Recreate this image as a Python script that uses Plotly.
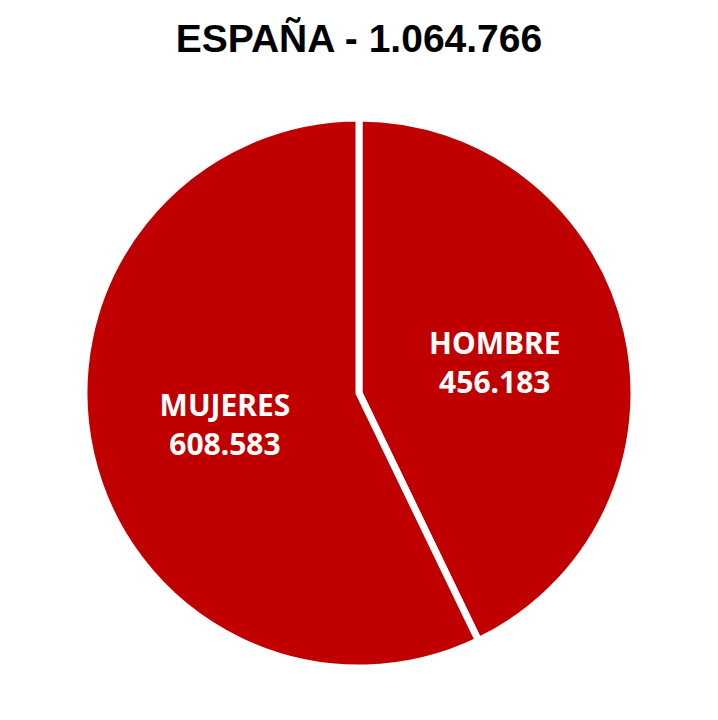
import plotly.graph_objects as go

# datos
sexos = ["HOMBRE", "MUJERES"]
valores = [456183, 608583]
total_label = "1.064.766"


def fmt_miles(n):
    return f"{n:,}".replace(",", ".")


textos = [f"{s}<br>{fmt_miles(v)}" for s, v in zip(sexos, valores)]

pie = go.Pie(labels=sexos, values=valores, text=textos,
             textinfo='text', textposition='inside',
             insidetextorientation='horizontal',
             sort=False, direction='clockwise', rotation=0,
             marker=dict(colors=['#c00000', '#c00000'],
                         line=dict(color='white', width=7)),
             textfont=dict(family='Noto Sans', size=30, color='white', weight='bold'),
             hoverinfo='label+value', showlegend=False)

# la pagina tiene 8px de margen en el body
layout = go.Layout(
    title=dict(text=f"<b>ESPAÑA - {total_label}</b>", x=0.5, xanchor='center',
               y=1 - 30 / 704, yanchor='middle',
               font=dict(family='Liberation Sans', size=39, color='black')),
    width=702, height=704,
    margin=dict(l=0, r=0, t=110, b=44),
    paper_bgcolor='white', plot_bgcolor='white')

fig = go.Figure(data=[pie], layout=layout)
fig.write_html("out.html")
